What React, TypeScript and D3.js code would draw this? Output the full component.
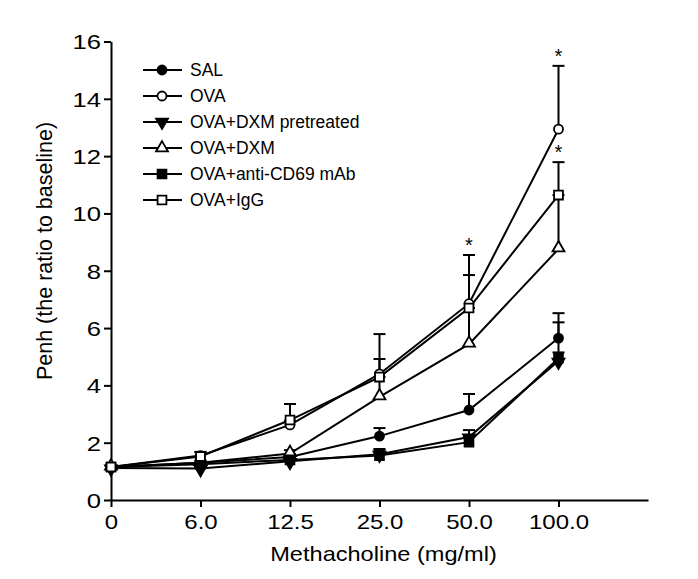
import React, { useEffect, useRef } from 'react';
import * as d3 from 'd3';

// doses on the x axis
const doses = ['0', '6.0', '12.5', '25.0', '50.0', '100.0'];
const yTicks = [0, 2, 4, 6, 8, 10, 12, 14, 16];

// series means and upper SD
const salMean = [1.15, 1.3, 1.5, 2.23, 3.14, 5.65];
const salErr = [0.05, 0.08, 0.1, 0.28, 0.56, 0.87];
const ovaMean = [1.15, 1.55, 2.62, 4.4, 6.85, 12.94];
const ovaErr = [0.05, 0.12, 0.15, 1.39, 1.7, 2.21];
const dxmPreMean = [1.12, 1.1, 1.35, 1.6, 2.2, 4.85];
const dxmPreErr = [0.05, 0.05, 0.1, 0.18, 0.24, 0.3];
const dxmMean = [1.15, 1.3, 1.62, 3.6, 5.44, 8.76];
const dxmErr = [0.05, 0.06, 0.12, 0.69, 1.26, 1.88];
const cd69Mean = [1.15, 1.25, 1.4, 1.55, 2.02, 4.95];
const cd69Err = [0.05, 0.06, 0.1, 0.2, 0.2, 1.25];
const iggMean = [1.15, 1.52, 2.79, 4.29, 6.7, 10.64];
const iggErr = [0.05, 0.16, 0.56, 0.63, 1.15, 1.15];

// dose indexes marked with * (p < 0.05)
const ovaStars = [4, 5];
const iggStars = [5];

const series = [
  { name: 'SAL', mean: salMean, err: salErr, shape: 'circle', filled: true, stars: [] as number[] },
  { name: 'OVA', mean: ovaMean, err: ovaErr, shape: 'circle', filled: false, stars: ovaStars },
  { name: 'OVA+DXM pretreated', mean: dxmPreMean, err: dxmPreErr, shape: 'down', filled: true, stars: [] as number[] },
  { name: 'OVA+DXM', mean: dxmMean, err: dxmErr, shape: 'up', filled: false, stars: [] as number[] },
  { name: 'OVA+anti-CD69 mAb', mean: cd69Mean, err: cd69Err, shape: 'square', filled: true, stars: [] as number[] },
  { name: 'OVA+IgG', mean: iggMean, err: iggErr, shape: 'square', filled: false, stars: iggStars },
];

const FONT = '"Liberation Sans", Arial, Helvetica, sans-serif';

const symbolFor = (shape: string) => {
  if (shape === 'circle') return d3.symbol().type(d3.symbolCircle).size(64)();
  if (shape === 'square') return d3.symbol().type(d3.symbolSquare).size(78)();
  return d3.symbol().type(d3.symbolTriangle).size(62)();
};

const App = () => {
  const svgRef = useRef<SVGSVGElement>(null);

  useEffect(() => {
    const svg = d3.select(svgRef.current);
    svg.selectAll('*').remove();

    const x = d3.scaleLinear().domain([0, 6]).range([111, 648]);
    const y = d3.scaleLinear().domain([0, 16]).range([500, 41.5]);

    const g = svg.append('g');

    // y axis
    const ya = g.append('g')
      .attr('transform', `translate(${x(0)},0)`)
      .call(d3.axisLeft(y).tickValues(yTicks).tickSize(7).tickSizeOuter(0).tickPadding(3));
    ya.selectAll('path, line').attr('stroke', '#000').attr('stroke-width', 2);
    ya.selectAll('text')
      .attr('fill', '#000')
      .style('font-family', FONT)
      .style('font-size', '20.5px')
      .attr('dy', '0.36em')
      .attr('transform', function () {
        const t = d3.select(this);
        return `translate(${t.attr('x')},0) scale(1.25,1) translate(${-t.attr('x')},0)`;
      });

    // x axis, one empty slot after 100.0
    const xa = g.append('g')
      .attr('transform', `translate(0,${y(0)})`)
      .call(d3.axisBottom(x).tickValues(d3.range(doses.length)).tickFormat((i: any) => doses[i])
        .tickSize(7).tickSizeOuter(0).tickPadding(8));
    xa.selectAll('path, line').attr('stroke', '#000').attr('stroke-width', 2);
    xa.selectAll('.tick text')
      .attr('fill', '#000')
      .style('font-family', FONT)
      .style('font-size', '20px')
      .attr('transform', 'scale(1.2,1)');

    // axis titles
    g.append('text')
      .attr('transform', `translate(${(x(0) + x(6)) / 2 + 4},561) scale(1.15,1)`)
      .attr('text-anchor', 'middle')
      .style('font-family', FONT)
      .style('font-size', '20.5px')
      .text('Methacholine (mg/ml)');

    g.append('text')
      .attr('transform', `translate(52,251) rotate(-90)`)
      .attr('text-anchor', 'middle')
      .style('font-family', FONT)
      .style('font-size', '21.5px')
      .text('Penh (the ratio to baseline)');

    // lines
    const line = d3.line<number>()
      .x((_, i) => x(i))
      .y(d => y(d));

    series.forEach(s => {
      g.append('path')
        .datum(s.mean)
        .attr('fill', 'none')
        .attr('stroke', '#000')
        .attr('stroke-width', 2)
        .attr('d', line);
    });

    // error bars (upper only)
    series.forEach(s => {
      const eb = g.append('g');
      s.mean.forEach((m, i) => {
        const top = y(m + s.err[i]);
        eb.append('line')
          .attr('x1', x(i)).attr('x2', x(i))
          .attr('y1', y(m)).attr('y2', top)
          .attr('stroke', '#000').attr('stroke-width', 2);
        eb.append('line')
          .attr('x1', x(i) - 6).attr('x2', x(i) + 6)
          .attr('y1', top).attr('y2', top)
          .attr('stroke', '#000').attr('stroke-width', 2);
      });
    });

    // markers
    series.forEach(s => {
      g.selectAll(null)
        .data(s.mean)
        .enter().append('path')
        .attr('d', symbolFor(s.shape))
        .attr('transform', (d, i) => `translate(${x(i)},${y(d) + (s.shape === 'down' ? 1 : s.shape === 'up' ? -1 : 0)})${s.shape === 'down' ? ' rotate(180)' : ''}`)
        .attr('fill', s.filled ? '#000' : '#fff')
        .attr('stroke', '#000')
        .attr('stroke-width', 1.8);
    });

    // significance stars
    series.forEach(s => {
      s.stars.forEach(i => {
        g.append('text')
          .attr('x', x(i))
          .attr('y', y(s.mean[i] + s.err[i]) - 3)
          .attr('text-anchor', 'middle')
          .style('font-family', FONT)
          .style('font-size', '20px')
          .text('*');
      });
    });

    // legend
    const lg = g.append('g');
    series.forEach((s, k) => {
      const ly = 70 + k * 26;
      lg.append('line')
        .attr('x1', 143).attr('x2', 182)
        .attr('y1', ly).attr('y2', ly)
        .attr('stroke', '#000').attr('stroke-width', 2);
      lg.append('path')
        .attr('d', symbolFor(s.shape))
        .attr('transform', `translate(162,${ly})${s.shape === 'down' ? ' rotate(180)' : ''}`)
        .attr('fill', s.filled ? '#000' : '#fff')
        .attr('stroke', '#000')
        .attr('stroke-width', 1.8);
      lg.append('text')
        .attr('transform', `translate(190,${ly})`)
        .attr('dy', '0.36em')
        .style('font-family', FONT)
        .style('font-size', '17.5px')
        .text(s.name);
    });
  }, []);

  return (
    <div style={{ position: 'absolute', left: 0, top: 0 }}>
      <svg ref={svgRef} width={698} height={579} style={{ display: 'block', background: '#fff' }} />
    </div>
  );
};

export default App;
